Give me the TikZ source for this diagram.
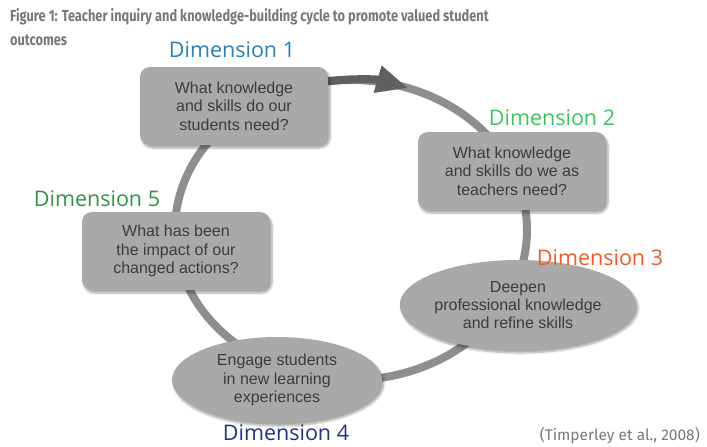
\documentclass[tikz,border=0pt]{standalone}
\usepackage{fontspec}
\setmainfont{Liberation Sans}
\newfontfamily\dimfont{Open Sans}
\newfontfamily\capfont[FakeStretch=0.8]{Fira Sans}
\newfontfamily\srcfont{Fira Sans}
\usepackage{tikz}
\usetikzlibrary{
  shapes.geometric,      % ellipse nodes
  shadows.blur           % soft shadows under the boxes
}
\usetikzlibrary{arrows.meta}

\definecolor{ringgray}{HTML}{8E8E8E}
\definecolor{arrowgray}{HTML}{606060}
\definecolor{boxgray}{HTML}{A9A9A9}
\definecolor{textgray}{HTML}{3C3C3C}
\definecolor{capgray}{HTML}{787878}
\definecolor{dimblue}{HTML}{2A7DB5}
\definecolor{dimlime}{HTML}{3CC45A}
\definecolor{dimgreen}{HTML}{2E9444}
\definecolor{dimorange}{HTML}{F2592A}
\definecolor{dimnavy}{HTML}{23318A}

\begin{document}
\begin{tikzpicture}[x=1pt, y=-1pt,
    shade/.style={blur shadow={shadow xshift=2pt, shadow yshift=-3pt,
        shadow opacity=35, shadow blur steps=6}},
    qbox/.style={rectangle, rounded corners=10pt, fill=boxgray, shade,
        minimum width=188pt, minimum height=78pt, inner sep=0pt,
        align=center, text=textgray, font=\fontsize{16}{18.3}\selectfont},
    qoval/.style={ellipse, fill=boxgray, shade, inner sep=0pt,
        align=center, text=textgray, font=\fontsize{16}{18.3}\selectfont},
    dimlabel/.style={inner sep=0pt, font=\dimfont\fontsize{21.5}{24}\selectfont}]
    \useasboundingbox (0,0) rectangle (707,447);

    % the cycle ring and its arrow at the top
    \coordinate (hub) at (351,230);
    \draw[ringgray, line width=8pt] (hub) ellipse [x radius=176, y radius=150];
    \draw[arrowgray, line width=8pt, -{Triangle[length=32pt, width=26pt]}]
        (hub) ++(258:176 and 150) arc [start angle=258, end angle=289,
        x radius=176, y radius=150];

    % the five steps
    \node[qbox] (needs) at (234,106) {What knowledge\\and skills do our\\students need?};
    \node[qbox] (teach) at (512,171) {What knowledge\\and skills do we as\\teachers need?};
    \node[qoval, minimum width=220pt, minimum height=90pt] (deepen) at (518,305)
        {Deepen\\professional knowledge\\and refine skills};
    \node[qoval, minimum width=210pt, minimum height=86pt] (engage) at (277,380)
        {Engage students\\in new learning\\experiences};
    \node[qbox] (impact) at (176,251) {What has been\\the impact of our\\changed actions?};

    % dimension labels
    \node[dimlabel, text=dimblue] (dim1) at (232,50) {Dimension 1};
    \node[dimlabel, text=dimlime] (dim2) at (552,118) {Dimension 2};
    \node[dimlabel, text=dimorange] (dim3) at (600,258) {Dimension 3};
    \node[dimlabel, text=dimnavy] (dim4) at (286,433) {Dimension 4};
    \node[dimlabel, text=dimgreen] (dim5) at (97,199) {Dimension 5};

    % caption and source
    \node[anchor=north west, inner sep=0pt, align=left, text=capgray,
        font=\capfont\bfseries\fontsize{16}{24}\selectfont] (title) at (10,8)
        {Figure 1: Teacher inquiry and knowledge-building cycle to promote valued student\\outcomes};
    \node[anchor=east, inner sep=0pt, text=capgray,
        font=\srcfont\fontsize{15.5}{18}\selectfont] (source) at (700,436)
        {(Timperley et al., 2008)};
\end{tikzpicture}
\end{document}
